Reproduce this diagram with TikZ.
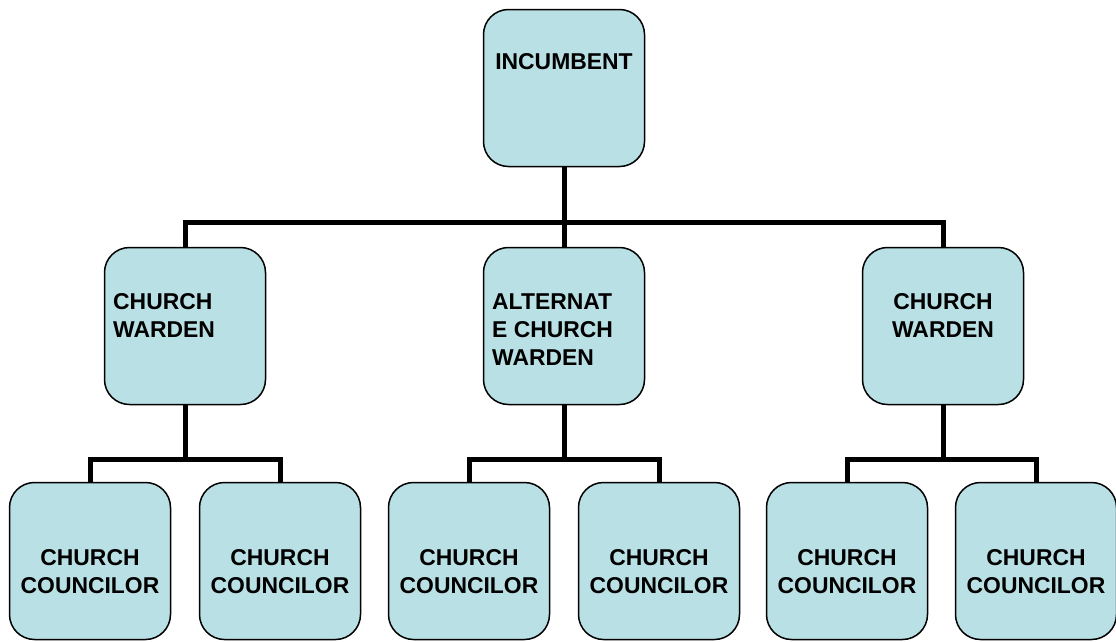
\documentclass[tikz,border=0pt]{standalone}
\usepackage{fontspec}
\setmainfont{Liberation Sans}
\definecolor{boxfill}{RGB}{185,224,228}
\begin{document}
\begin{tikzpicture}[x=1pt,y=-1pt,
    box/.style={draw=black,line width=1.5pt,fill=boxfill,rounded corners=25pt,
        minimum width=161pt,minimum height=157pt,inner sep=0pt},
    lbl/.style={font=\fontsize{22.9}{28}\selectfont\bfseries,inner sep=0pt},
    link/.style={line width=5pt}]
            \useasboundingbox (0,0) rectangle (1116,641);

            \node[box] (inc) at (564,88) {};

            \node[box] (w1) at (185,326) {};
            \node[box] (aw) at (564,326) {};
            \node[box] (w2) at (943,326) {};

            \node[box] (c1) at (90,561) {};
            \node[box] (c2) at (280,561) {};
            \node[box] (c3) at (469,561) {};
            \node[box] (c4) at (659,561) {};
            \node[box] (c5) at (847,561) {};
            \node[box] (c6) at (1036,561) {};

            \coordinate (bar) at (564,222);
            \draw[link] (inc.south) -- (aw.north);
            \draw[link] (w1.north) |- (bar) -| (w2.north);

            \draw[link] (w1.south) -- ++(0,54) coordinate (j1);
            \draw[link] (c1.north) |- (j1) -| (c2.north);
            \draw[link] (aw.south) -- ++(0,54) coordinate (j2);
            \draw[link] (c3.north) |- (j2) -| (c4.north);
            \draw[link] (w2.south) -- ++(0,54) coordinate (j3);
            \draw[link] (c5.north) |- (j3) -| (c6.north);

            \node[lbl] (inct) at (564,62) {INCUMBENT};
            \node[lbl,anchor=west,align=left] (w1t) at (113,315) {CHURCH\\WARDEN};
            \node[lbl,anchor=west,align=left] (awt) at (492,330) {ALTERNAT\\E CHURCH\\WARDEN};
            \node[lbl,align=center] (w2t) at (943,315) {CHURCH\\WARDEN};

            \foreach \c in {c1,c2,c3,c4,c5,c6}
                \node[lbl,align=center] (\c t) at ([yshift=-11pt]\c.center) {CHURCH\\COUNCILOR};
        \end{tikzpicture}
\end{document}
